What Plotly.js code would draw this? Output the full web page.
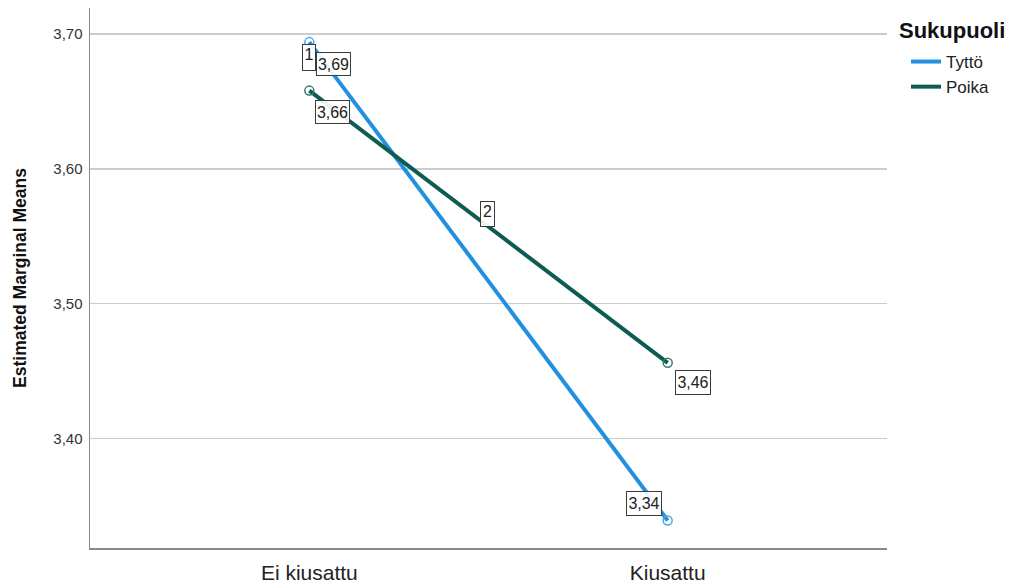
<!DOCTYPE html>
<html>
<head>
<meta charset="utf-8">
<script src="https://cdn.plot.ly/plotly-3.0.1.min.js"></script>
<style>html,body{margin:0;padding:0;background:#fff;}#chart{width:1011px;height:585px;}</style>
</head>
<body>
<div id="chart"></div>
<script>
var categories = ["Ei kiusattu", "Kiusattu"];
var seriesNames = ["Tyttö", "Poika"];
var tyttoValues = [3.694, 3.339];
var poikaValues = [3.658, 3.456];
var yTickValues = [3.40, 3.50, 3.60, 3.70];
var yTickLabels = ["3,40", "3,50", "3,60", "3,70"];
var lineLabels = ["1", "2"];
var legendTitle = "Sukupuoli";
var yTitle = "Estimated Marginal Means";

var colors = ["#2190e0", "#0d5c52"];
var markerColors = ["#4aa8e8", "#3a7a70"];
var series = [tyttoValues, poikaValues];
var FONT = "Liberation Sans, Arial, sans-serif";

function fmt(v) { return v.toFixed(2).replace(".", ","); }

var traces = [];
series.forEach(function (vals, i) {
  traces.push({
    type: "scatter", mode: "lines", name: seriesNames[i],
    x: [0, 1], y: vals,
    line: { color: colors[i], width: 4 },
    hoverinfo: "skip"
  });
});
series.forEach(function (vals, i) {
  traces.push({
    type: "scatter", mode: "markers", name: seriesNames[i], showlegend: false,
    x: [0, 1], y: vals,
    marker: { symbol: "circle-open", size: 9, color: markerColors[i], line: { width: 1.5, color: markerColors[i] } },
    hoverinfo: "skip"
  });
});

function box(x, y, text, xs, ys, w, h, valign) {
  return {
    x: x, y: y, xref: "x", yref: "y", text: text, showarrow: false,
    xshift: xs, yshift: ys, width: w, height: h, valign: valign || "middle",
    font: { family: FONT, size: 16, color: "#222" },
    bordercolor: "#3a3a3a", borderwidth: 1, borderpad: 1, bgcolor: "rgba(255,255,255,0.92)"
  };
}

var annotations = [
  box(0, tyttoValues[0], lineLabels[0], 0, -15, 10, 23, "top"),
  box(0, tyttoValues[0], fmt(tyttoValues[0]), 24, -21.5, 31, 20),
  box(0, poikaValues[0], fmt(poikaValues[0]), 23, -21.5, 31, 20),
  box(1, poikaValues[1], fmt(poikaValues[1]), 25, -19.5, 32, 21),
  box(1, tyttoValues[1], fmt(tyttoValues[1]), -24, 17.5, 32, 21),
  box(0.5, (poikaValues[0] + poikaValues[1]) / 2, lineLabels[1], -1, 12.5, 11, 22, "top"),
  {
    xref: "paper", yref: "paper", x: (897 - 90) / 797, y: 1 - (30 - 8) / 540,
    xanchor: "left", yanchor: "middle", showarrow: false,
    text: "<b>" + legendTitle + "</b>",
    font: { family: FONT, size: 22, color: "#111" }
  }
];

var layout = {
  width: 1011, height: 585,
  margin: { l: 90, r: 124, t: 8, b: 37 },
  paper_bgcolor: "#ffffff", plot_bgcolor: "#ffffff",
  font: { family: FONT, color: "#222" },
  xaxis: {
    type: "linear",
    range: [-0.612, 1.612],
    tickvals: [0, 1], ticktext: categories,
    tickfont: { size: 21, color: "#222" },
    showgrid: false, zeroline: false,
    showline: true, linecolor: "#888", linewidth: 1.5,
    ticks: "", ticklen: 0, ticklabelstandoff: 5, fixedrange: true
  },
  yaxis: {
    range: [3.3186, 3.7193],
    tickvals: yTickValues, ticktext: yTickLabels,
    tickfont: { size: 15, color: "#333" },
    showgrid: true, gridcolor: "#cccccc", gridwidth: 1.5,
    zeroline: false,
    showline: true, linecolor: "#888", linewidth: 1.5,
    ticks: "", ticklen: 0, ticklabelstandoff: 3,
    title: { text: yTitle, font: { size: 17.5, color: "#111", family: FONT, weight: "bold" }, standoff: 22 },
    automargin: false
  },
  showlegend: true,
  legend: {
    x: (906 - 90) / 797, xanchor: "left", y: 1 - (44 - 8) / 540, yanchor: "top",
    font: { size: 17, color: "#222" },
    tracegroupgap: 0, bgcolor: "rgba(0,0,0,0)"
  },
  annotations: annotations
};

Plotly.newPlot("chart", traces, layout, { displayModeBar: false, staticPlot: true });
</script>
</body>
</html>
